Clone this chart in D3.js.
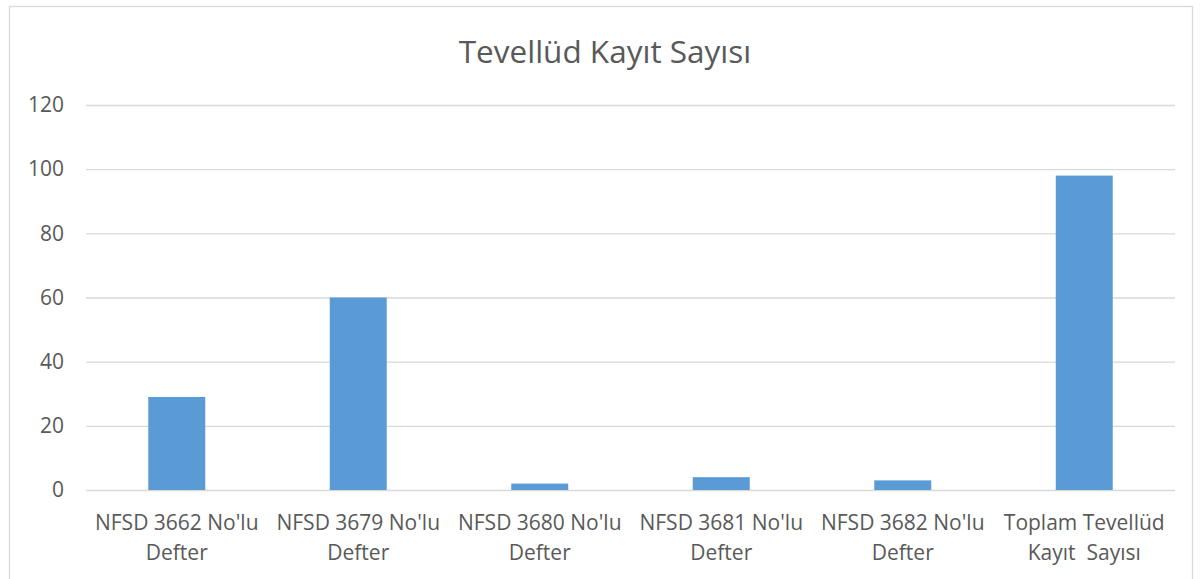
<!DOCTYPE html>
<html>
<head>
<meta charset="utf-8">
<script src="https://cdn.jsdelivr.net/npm/d3@7"></script>
<style>
  body { margin: 0; background: #fff; }
  text { font-family: "Open Sans", sans-serif; }
</style>
</head>
<body>
<div id="wrapper"></div>
<script>
const categories = [
  ["NFSD 3662 No'lu", "Defter"],
  ["NFSD 3679 No'lu", "Defter"],
  ["NFSD 3680 No'lu", "Defter"],
  ["NFSD 3681 No'lu", "Defter"],
  ["NFSD 3682 No'lu", "Defter"],
  ["Toplam Tevellüd", "Kayıt  Sayısı"]
]
const values = [29, 60, 2, 4, 3, 98]
const yTicks = [0, 20, 40, 60, 80, 100, 120]
const title = "Tevellüd Kayıt Sayısı"

function drawBarChart() {
  const dimensions = {
    width: 1200,
    height: 579,
    margin: { top: 105, right: 25, bottom: 89, left: 86 },
  }
  dimensions.boundedWidth = dimensions.width - dimensions.margin.left - dimensions.margin.right
  dimensions.boundedHeight = dimensions.height - dimensions.margin.top - dimensions.margin.bottom

  const svg = d3.select("#wrapper").append("svg")
    .attr("width", dimensions.width)
    .attr("height", dimensions.height)

  // chart frame
  svg.append("rect")
    .attr("x", 9.5).attr("y", 6.5)
    .attr("width", 1183).attr("height", 600)
    .attr("fill", "#fff")
    .attr("stroke", "#d9d9d9")
    .attr("stroke-width", 1.3)

  svg.append("text")
    .attr("x", 605).attr("y", 63)
    .attr("text-anchor", "middle")
    .attr("fill", "#595959")
    .style("font-size", "31.5px")
    .text(title)

  const bounds = svg.append("g")
    .attr("transform", `translate(${dimensions.margin.left},${dimensions.margin.top})`)

  const yScale = d3.scaleLinear()
    .domain([0, 120])
    .range([dimensions.boundedHeight, 0])

  const xScale = d3.scaleBand()
    .domain(d3.range(categories.length))
    .range([0, dimensions.boundedWidth])
    .paddingInner(0.686)
    .paddingOuter(0.343)

  const yAxis = bounds.append("g")
    .call(d3.axisLeft(yScale).tickValues(yTicks).tickSize(-dimensions.boundedWidth).tickPadding(22))
  yAxis.select(".domain").remove()
  yAxis.selectAll(".tick line").attr("stroke", "#d9d9d9").attr("stroke-width", 1.3)
  yAxis.selectAll(".tick text")
    .attr("fill", "#595959")
    .style("font-size", "21px")
    .style("font-family", "'Open Sans', sans-serif")

  bounds.selectAll("rect.bar")
    .data(values)
    .enter().append("rect")
    .attr("class", "bar")
    .attr("x", (d, i) => xScale(i))
    .attr("y", d => yScale(d))
    .attr("width", xScale.bandwidth())
    .attr("height", d => dimensions.boundedHeight - yScale(d))
    .attr("fill", "#5b9bd5")

  const xAxis = bounds.append("g")
    .attr("transform", `translate(0,${dimensions.boundedHeight})`)
    .call(d3.axisBottom(xScale).tickSize(0).tickFormat(""))
  xAxis.select(".domain").remove()

  const labels = bounds.selectAll("text.cat")
    .data(categories)
    .enter().append("text")
    .attr("class", "cat")
    .attr("text-anchor", "middle")
    .attr("fill", "#595959")
    .style("font-size", "21px")
    .attr("transform", (d, i) => `translate(${xScale(i) + xScale.bandwidth() / 2},${dimensions.boundedHeight + 40})`)
  labels.selectAll("tspan")
    .data(d => d)
    .enter().append("tspan")
    .attr("x", 0)
    .attr("dy", (d, i) => i ? 30 : 0)
    .style("white-space", "pre")
    .attr("xml:space", "preserve")
    .text(d => d)
}

drawBarChart()
</script>
</body>
</html>
